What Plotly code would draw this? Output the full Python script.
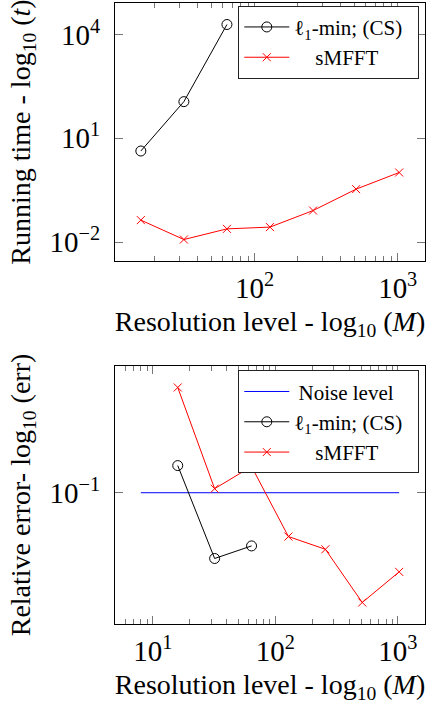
import numpy as np
import plotly.graph_objects as go

# ---------------- data ----------------
M_all = [16, 32, 64, 128, 256, 512, 1024]
M_cs = [16, 32, 64]
time_cs = [4.3, 115, 19500]
time_smfft = [0.0433, 0.0119, 0.0242, 0.0272, 0.0818, 0.340, 1.03]

M_noise = [8, 1024]
err_noise = [0.1, 0.1]
err_cs = [0.148, 0.0387, 0.0464]
err_smfft = [0.457, 0.106, 0.146, 0.0531, 0.0442, 0.0205, 0.0319]

name_cs = "ℓ<sub>1</sub>-min; (CS)\u2002"
name_smfft = "\u2003sMFFT\u2002"
name_noise = "\u2009Noise level\u2002"

# ---------------- style ----------------
FONT = "'Liberation Serif', 'Times New Roman', Times, 'DejaVu Serif', serif"
RED = "#ff0000"
BLUE = "#0000ff"


def enlarge(vals):
    lv = np.log10(np.asarray(vals, dtype=float))
    lo, hi = lv.min(), lv.max()
    pad = 0.1 * (hi - lo)
    return [lo - pad, hi + pad]


def minor_vals(k0, k1):
    return [d * 10.0 ** k for k in range(k0, k1) for d in range(2, 10)]


def sup(k):
    s = str(k).replace("-", "\u2212")
    return f"10<sup>{s}</sup>"


fig = go.Figure()

# top panel
fig.add_trace(go.Scatter(
    x=M_cs, y=time_cs, mode="lines+markers", name=name_cs,
    line=dict(color="black", width=1),
    marker=dict(symbol="circle-open", size=10, color="black", line=dict(width=1)),
    xaxis="x", yaxis="y", legend="legend"))
fig.add_trace(go.Scatter(
    x=M_all, y=time_smfft, mode="lines+markers", name=name_smfft,
    line=dict(color=RED, width=1),
    marker=dict(symbol="x-thin-open", size=8, color=RED, line=dict(width=1, color=RED)),
    xaxis="x", yaxis="y", legend="legend"))

# bottom panel
fig.add_trace(go.Scatter(
    x=M_noise, y=err_noise, mode="lines", name=name_noise,
    line=dict(color=BLUE, width=1),
    xaxis="x2", yaxis="y2", legend="legend2"))
fig.add_trace(go.Scatter(
    x=M_cs, y=err_cs, mode="lines+markers", name=name_cs,
    line=dict(color="black", width=1),
    marker=dict(symbol="circle-open", size=10, color="black", line=dict(width=1)),
    xaxis="x2", yaxis="y2", legend="legend2"))
fig.add_trace(go.Scatter(
    x=M_all, y=err_smfft, mode="lines+markers", name=name_smfft,
    line=dict(color=RED, width=1),
    marker=dict(symbol="x-thin-open", size=8, color=RED, line=dict(width=1, color=RED)),
    xaxis="x2", yaxis="y2", legend="legend2"))

tickfont = dict(family=FONT, size=29, color="black")
titlefont = dict(family=FONT, size=28, color="black")
common = dict(type="log", showline=True, linecolor="black", linewidth=1,
              mirror="ticks", ticks="inside", ticklen=8, tickwidth=1,
              tickcolor="#777777", showgrid=False, zeroline=False,
              tickfont=tickfont, tickmode="array")
minor = dict(ticks="inside", ticklen=5, tickwidth=1, tickcolor="#777777",
             showgrid=False)

xr1 = enlarge(M_all)
yr1 = enlarge(time_cs + time_smfft)
xr2 = enlarge(M_noise + M_all)
yr2 = enlarge(err_noise + err_cs + err_smfft)

legfont = dict(family=FONT, size=21, color="black")

fig.update_layout(
    width=426, height=707,
    margin=dict(l=115, r=1, t=3, b=83),
    paper_bgcolor="white", plot_bgcolor="white",
    font=dict(family=FONT, color="black"),
    xaxis=dict(**common, domain=[0, 1], anchor="y", range=xr1,
               tickvals=[100, 1000], ticktext=[sup(2), sup(3)],
               minor=dict(**minor, tickvals=minor_vals(1, 3)),
               ticklabelstandoff=1,
               title=dict(text="Resolution level - log<sub>10</sub> (<i>M</i>)",
                          font=titlefont, standoff=8)),
    yaxis=dict(**common, domain=[0.5845, 1], anchor="x", range=yr1,
               tickvals=[0.01, 10, 10000], ticktext=[sup(-2), sup(1), sup(4)],
               ticklabelstandoff=8,
               title=dict(text="Running time - log<sub>10</sub> (<i>t</i>)",
                          font=titlefont, standoff=10)),
    xaxis2=dict(**common, domain=[0, 1], anchor="y2", range=xr2,
                tickvals=[10, 100, 1000], ticktext=[sup(1), sup(2), sup(3)],
                minor=dict(**minor, tickvals=minor_vals(0, 3)),
                ticklabelstandoff=1,
                title=dict(text="Resolution level - log<sub>10</sub> (<i>M</i>)",
                           font=titlefont, standoff=8)),
    yaxis2=dict(**common, domain=[0, 0.4155], anchor="x2", range=yr2,
                tickvals=[0.1], ticktext=[sup(-1)],
                ticklabelstandoff=8,
                title=dict(text="Relative error- log<sub>10</sub> (err)",
                           font=titlefont, standoff=10)),
    legend=dict(x=0.9816, y=0.9955, xanchor="right", yanchor="top",
                bgcolor="white", bordercolor="#222222", borderwidth=1,
                font=legfont, itemwidth=45, tracegroupgap=0),
    legend2=dict(x=0.9816, y=0.4085, xanchor="right", yanchor="top",
                 bgcolor="white", bordercolor="#222222", borderwidth=1,
                 font=legfont, itemwidth=45, tracegroupgap=0),
    showlegend=True,
)

fig.write_html("out.html", config={"displayModeBar": False},
               post_script="document.body.style.margin='0';document.body.style.padding='0';")
